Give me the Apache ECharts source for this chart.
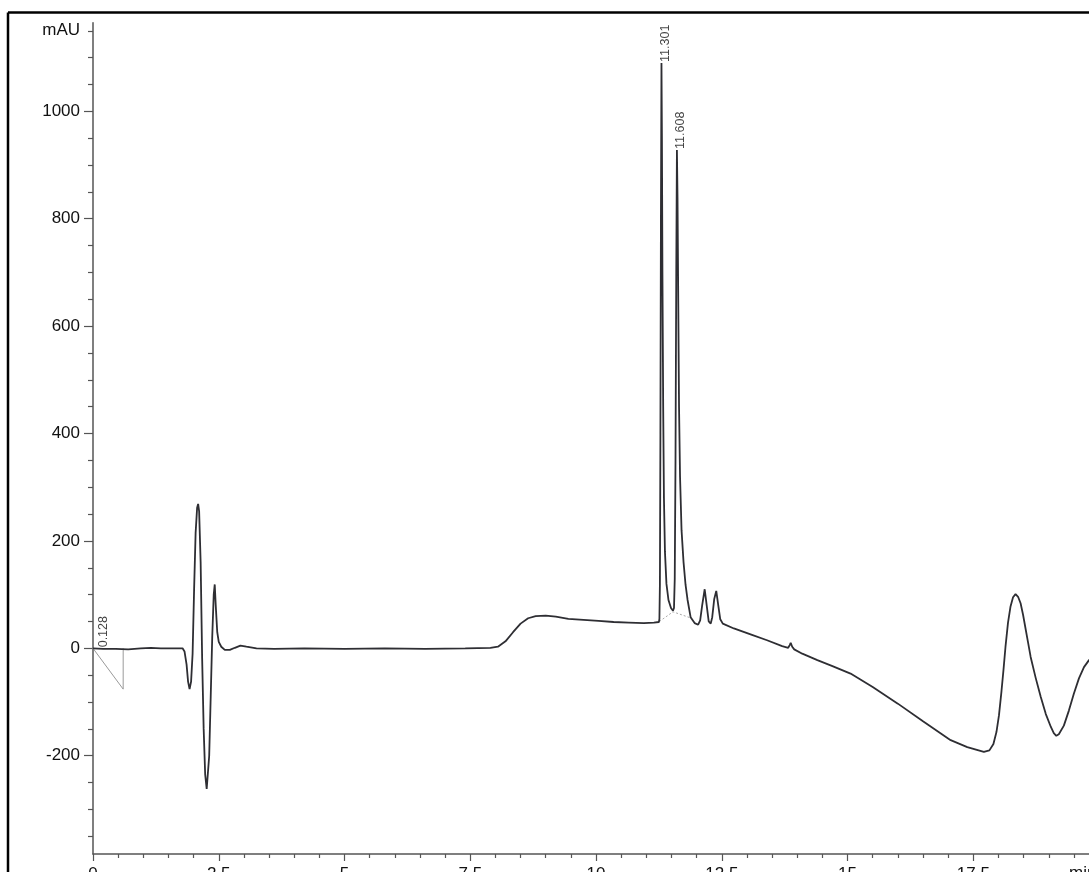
<!DOCTYPE html>
<html>
<head>
<meta charset="utf-8">
<script src="https://cdn.jsdelivr.net/npm/echarts@6/dist/echarts.min.js"></script>
<style>
  html, body { margin: 0; padding: 0; background: #fff; }
  #chart { width: 1089px; height: 872px; }
</style>
</head>
<body>
<div id="chart"></div>
<script>
// Detector trace: retention time (min) and absorbance (mAU)
const traceTime = [
  0.00, 0.20, 0.45, 0.70, 0.95, 1.15, 1.35, 1.60, 1.78, 1.82, 1.86, 1.89, 1.92, 1.95, 1.98,
  2.01, 2.04, 2.07, 2.09, 2.11, 2.14, 2.17, 2.20, 2.23, 2.26, 2.28, 2.31, 2.34, 2.37, 2.40,
  2.42, 2.44, 2.47, 2.50, 2.55, 2.62, 2.72, 2.82, 2.93, 3.05, 3.25, 3.60, 4.20, 5.00, 5.80,
  6.60, 7.40, 7.90, 8.05, 8.20, 8.35, 8.50, 8.65, 8.80, 9.00, 9.20, 9.45, 9.75, 10.05, 10.35,
  10.65, 10.95, 11.15, 11.25, 11.26, 11.27, 11.28, 11.29, 11.301, 11.31, 11.32, 11.335, 11.35, 11.37, 11.40,
  11.44, 11.49, 11.53, 11.55, 11.565, 11.58, 11.595, 11.608, 11.62, 11.635, 11.65, 11.67, 11.70, 11.74, 11.78,
  11.82, 11.88, 11.96, 12.03, 12.07, 12.11, 12.16, 12.20, 12.24, 12.28, 12.31, 12.35, 12.39, 12.43, 12.47,
  12.52, 12.74, 13.10, 13.40, 13.70, 13.82, 13.85, 13.87, 13.90, 13.94, 14.10, 14.40, 14.70, 15.06, 15.50,
  16.00, 16.50, 17.05, 17.38, 17.71, 17.82, 17.90, 17.96, 18.01, 18.06, 18.10, 18.14, 18.19, 18.24, 18.29,
  18.34, 18.39, 18.44, 18.49, 18.54, 18.59, 18.64, 18.74, 18.84, 18.94, 19.04, 19.10, 19.15, 19.20, 19.30,
  19.40, 19.50, 19.60, 19.70, 19.80, 19.90
];
const traceSignal = [
  0, -1, -1, -2, 0, 1, 0, 0, 0, -6, -30, -62, -76, -62, -10,
  110, 215, 262, 269, 255, 160, -20, -150, -235, -262, -260, -200, -90, 20, 100,
  119, 80, 30, 12, 3, -3, -3, 1, 5, 3, 0, -1, 0, -1, 0,
  -1, 0, 1, 3, 13, 30, 46, 56, 60, 61, 59, 55, 53, 51, 49,
  48, 47, 48, 49, 55, 120, 400, 800, 1090, 950, 700, 450, 280, 180, 120,
  90, 75, 70, 75, 130, 350, 700, 928, 840, 640, 450, 320, 220, 160, 118,
  90, 58, 47, 44, 52, 80, 110, 80, 50, 46, 58, 92, 107, 80, 54,
  46, 37, 25, 15, 4, 1, 6, 10, 3, -2, -10, -22, -33, -47, -72,
  -103, -136, -171, -184, -193, -190, -178, -156, -125, -80, -40, 3, 48, 78, 95,
  101, 96, 84, 62, 36, 10, -16, -55, -90, -122, -146, -158, -163, -160, -144,
  -116, -84, -56, -35, -22, -14
];

// Integration baselines (drop lines)
const baseAtStartTime = [0, 0.60, 0.60];
const baseAtStartSignal = [0, -76, 0];
const baseMainPeaksTime = [11.26, 11.53, 11.90];
const baseMainPeaksSignal = [50, 68, 56];

// Labelled peaks (retention times)
const peakTimes = [0.128, 11.301, 11.608];

// Axis ticks
const xMajorTicks = [0, 2.5, 5, 7.5, 10, 12.5, 15, 17.5];
const xTickLabels = ['0', '2.5', '5', '7.5', '10', '12.5', '15', '17.5'];
const xMinorTicks = [0.5, 1, 1.5, 2, 3, 3.5, 4, 4.5, 5.5, 6, 6.5, 7, 8, 8.5, 9, 9.5,
  10.5, 11, 11.5, 12, 13, 13.5, 14, 14.5, 15.5, 16, 16.5, 17, 18, 18.5, 19, 19.5];
const yMajorTicks = [-200, 0, 200, 400, 600, 800, 1000];
const yMinorTicks = [-350, -300, -250, -150, -100, -50, 50, 100, 150, 250, 300, 350, 450, 500, 550,
  650, 700, 750, 850, 900, 950, 1050, 1100, 1150];
const yUnitTick = 1150;
const yUnitLabel = 'mAU';
const xUnitLabel = 'min';

function pairs(xs, ys) { return xs.map((x, i) => [x, ys[i]]); }
function signalAt(t) {
  const i = traceTime.indexOf(t);
  if (i >= 0) return traceSignal[i];
  let j = 0;
  while (j < traceTime.length - 1 && traceTime[j + 1] < t) j++;
  return traceSignal[j];
}

const AXIS_COLOR = '#555';
const TEXT_COLOR = '#111';
const FONT = "'Liberation Sans', Arial, sans-serif";
const tickStyle = { color: AXIS_COLOR, width: 1.2 };

const chart = echarts.init(document.getElementById('chart'), null, { renderer: 'canvas' });

const option = {
  animation: false,
  backgroundColor: '#fff',
  grid: { left: 93, top: 22.7, right: 0, bottom: 18, containLabel: false, outerBoundsMode: 'none' },
  xAxis: [
    {
      type: 'value', min: 0, max: 19.8, position: 'bottom',
      axisLine: { show: true, onZero: false, lineStyle: { color: AXIS_COLOR, width: 1.5 } },
      axisTick: { show: true, inside: false, length: 7, customValues: xMajorTicks, lineStyle: tickStyle },
      splitLine: { show: false },
      axisLabel: {
        margin: 12, color: TEXT_COLOR, fontSize: 17, fontFamily: FONT,
        customValues: xMajorTicks,
        formatter: function (v) {
          const k = xMajorTicks.indexOf(v);
          return k >= 0 ? xTickLabels[k] : '';
        }
      }
    },
    {
      type: 'value', min: 0, max: 19.8, position: 'bottom',
      axisLine: { show: false, onZero: false },
      axisTick: { show: true, inside: false, length: 4, customValues: xMinorTicks, lineStyle: tickStyle },
      axisLabel: { show: false },
      splitLine: { show: false }
    }
  ],
  yAxis: [
    {
      type: 'value', min: -383, max: 1165, position: 'left',
      axisLine: { show: true, onZero: false, lineStyle: { color: AXIS_COLOR, width: 1.5 } },
      axisTick: { show: true, length: 9, customValues: yMajorTicks, lineStyle: tickStyle },
      axisLabel: {
        margin: 13, color: TEXT_COLOR, fontSize: 17, fontFamily: FONT,
        customValues: yMajorTicks.concat([yUnitTick]),
        formatter: function (v) { return v === yUnitTick ? yUnitLabel : String(v); }
      },
      splitLine: { show: false }
    },
    {
      type: 'value', min: -383, max: 1165, position: 'left',
      axisLine: { show: false, onZero: false },
      axisTick: { show: true, length: 5, customValues: yMinorTicks, lineStyle: tickStyle },
      axisLabel: { show: false },
      splitLine: { show: false }
    }
  ],
  series: [
    {
      name: 'baseline-start', type: 'line', data: pairs(baseAtStartTime, baseAtStartSignal),
      symbol: 'none', silent: true, z: 1,
      lineStyle: { color: '#9a9a9a', width: 1 }
    },
    {
      name: 'baseline-main', type: 'line', data: pairs(baseMainPeaksTime, baseMainPeaksSignal),
      symbol: 'none', silent: true, z: 1,
      lineStyle: { color: '#aaa', width: 1, type: [2, 2] }
    },
    {
      name: 'signal', type: 'line', data: pairs(traceTime, traceSignal),
      symbol: 'none', smooth: false, clip: true, z: 3,
      lineStyle: { color: '#2e2e33', width: 1.8 }
    },
    {
      name: 'peaks', type: 'scatter', symbolSize: 0, z: 4,
      data: peakTimes.map(t => [t, signalAt(t)]),
      label: {
        show: true, position: 'top', distance: 1, rotate: 90,
        align: 'left', verticalAlign: 'middle', offset: [0, 4],
        color: TEXT_COLOR, fontSize: 12.5,
        fontFamily: "'Liberation Sans Narrow', 'Liberation Sans', Arial, sans-serif",
        formatter: function (p) { return p.value[0].toFixed(3); }
      }
    }
  ],
  graphic: [
    { type: 'line', shape: { x1: 8, y1: 12.5, x2: 8, y2: 872 }, style: { stroke: '#000', lineWidth: 2.5 } },
    { type: 'line', shape: { x1: 8, y1: 12.5, x2: 1089, y2: 12.5 }, style: { stroke: '#000', lineWidth: 2.5 } },
    { type: 'text', left: 1069, top: 865, style: { text: xUnitLabel, fill: TEXT_COLOR, font: "17px 'Liberation Sans', Arial, sans-serif" } }
  ]
};

chart.setOption(option);
</script>
</body>
</html>
